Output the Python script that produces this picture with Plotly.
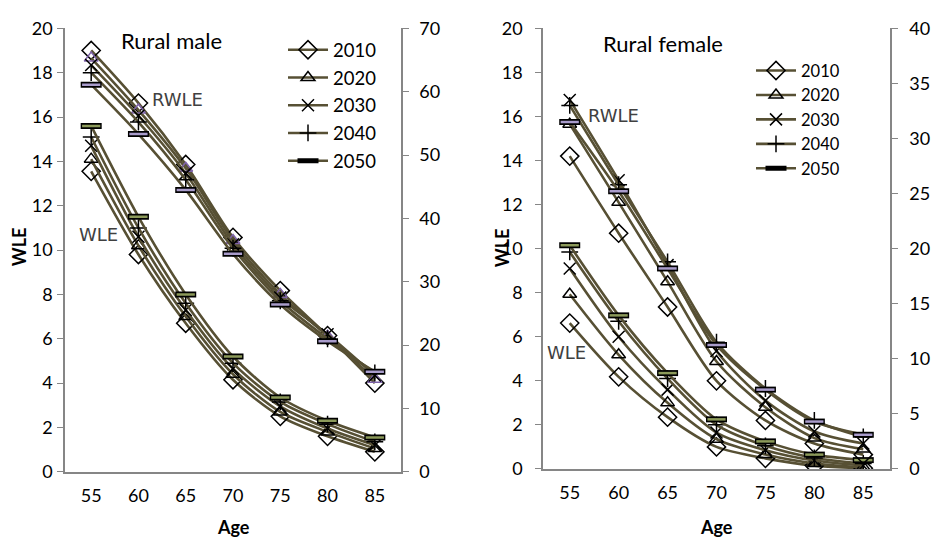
import plotly.graph_objects as go

ages = ["55", "60", "65", "70", "75", "80", "85"]
years = ["2010", "2020", "2030", "2040", "2050"]

# Rural male, WLE (left axis)
male_wle_2010 = [13.55, 9.8, 6.7, 4.15, 2.5, 1.6, 0.9]
male_wle_2020 = [14.1, 10.2, 7.0, 4.4, 2.7, 1.8, 1.05]
male_wle_2030 = [14.7, 10.6, 7.3, 4.65, 2.95, 1.95, 1.2]
male_wle_2040 = [15.1, 11.0, 7.6, 4.9, 3.15, 2.15, 1.35]
male_wle_2050 = [15.6, 11.5, 8.0, 5.2, 3.35, 2.3, 1.55]
# Rural male, RWLE (right axis)
male_rwle_2010 = [66.5, 58.2, 48.5, 37.0, 28.6, 21.5, 14.0]
male_rwle_2020 = [65.3, 57.1, 47.9, 36.5, 28.0, 21.4, 14.6]
male_rwle_2030 = [64.2, 56.2, 47.1, 35.9, 27.5, 21.7, 15.2]
male_rwle_2040 = [63.0, 55.2, 46.1, 35.3, 27.0, 21.0, 15.6]
male_rwle_2050 = [61.1, 53.3, 44.5, 34.4, 26.4, 20.6, 15.8]
# Rural female, WLE (left axis)
female_wle_2010 = [6.62, 4.18, 2.35, 1.0, 0.48, 0.15, 0.03]
female_wle_2020 = [7.93, 5.18, 3.0, 1.35, 0.65, 0.25, 0.08]
female_wle_2030 = [9.1, 6.0, 3.6, 1.65, 0.85, 0.38, 0.15]
female_wle_2040 = [9.85, 6.7, 4.1, 2.0, 1.05, 0.5, 0.25]
female_wle_2050 = [10.15, 6.97, 4.35, 2.25, 1.25, 0.65, 0.4]
# Rural female, RWLE (right axis)
female_rwle_2010 = [28.4, 21.4, 14.7, 8.0, 4.4, 2.3, 1.3]
female_rwle_2020 = [31.3, 24.2, 17.0, 9.75, 5.6, 2.8, 1.8]
female_rwle_2030 = [33.5, 26.2, 18.5, 10.7, 6.2, 3.4, 2.3]
female_rwle_2040 = [33.0, 25.8, 18.8, 11.5, 7.3, 4.4, 2.9]
female_rwle_2050 = [31.5, 25.2, 18.2, 11.25, 7.2, 4.3, 3.1]

male_wle = [male_wle_2010, male_wle_2020, male_wle_2030, male_wle_2040, male_wle_2050]
male_rwle = [male_rwle_2010, male_rwle_2020, male_rwle_2030, male_rwle_2040, male_rwle_2050]
female_wle = [female_wle_2010, female_wle_2020, female_wle_2030, female_wle_2040, female_wle_2050]
female_rwle = [female_rwle_2010, female_rwle_2020, female_rwle_2030, female_rwle_2040, female_rwle_2050]

FONT = "Lato"
LINE = "#575034"
symbols = ["diamond-open", "triangle-up-open", "x-thin-open", "cross-thin-open", "line-ew-open"]
sizes = [14, 12, 12, 12, 15]

fig = go.Figure()


def add_series(vals, xa, ya, i, rw, female, legend_name):
    sym = symbols[i]
    mcol = "black"
    if rw and i == 1 and not female:
        mcol = "#7d62a8"
    if i < 4:
        marker = dict(symbol=sym, size=sizes[i], color=mcol, line=dict(color=mcol, width=1.5))
    else:
        marker = dict(symbol="line-ew-open", size=sizes[i], color="black", line=dict(color="black", width=6))
    show = (not rw)
    fig.add_trace(go.Scatter(
        x=ages, y=vals, xaxis=xa, yaxis=ya, mode="lines+markers",
        name=years[i], line=dict(color=LINE, width=2.6, shape="spline", smoothing=0.8),
        marker=marker, showlegend=show, legend=legend_name,
        legendgroup=legend_name + years[i],
    ))
    if i == 4:
        fill = "#a99ccb" if rw else "#8c9a5a"
        fig.add_trace(go.Scatter(
            x=ages, y=vals, xaxis=xa, yaxis=ya, mode="markers",
            marker=dict(symbol="line-ew-open", size=sizes[i] - 2, color=fill, line=dict(color=fill, width=2.5)),
            showlegend=False, hoverinfo="skip",
        ))


for i in range(5):
    add_series(male_rwle[i], "x", "y2", i, True, False, "legend")
for i in range(5):
    add_series(male_wle[i], "x", "y", i, False, False, "legend")
for i in range(5):
    add_series(female_rwle[i], "x2", "y4", i, True, True, "legend2")
for i in range(5):
    add_series(female_wle[i], "x2", "y3", i, False, True, "legend2")

W, H = 934, 549
def px(x):
    return x / W
def py(y):
    return (H - y) / H

axcol = "#868686"
tickfont = dict(family=FONT, size=18, color="black")
yd = [py(479), py(17)]
yd2 = [py(476), py(17)]

common_x = dict(type="category", showline=True, linecolor=axcol, linewidth=1.5,
                ticks="", tickfont=tickfont, showgrid=False, zeroline=False,
                ticklabelstandoff=7)
common_y = dict(showline=True, linecolor=axcol, linewidth=1.5, ticks="outside",
                ticklen=6, tickcolor=axcol, tickfont=tickfont, showgrid=False, zeroline=False)

fig.update_layout(
    width=W, height=H, margin=dict(l=0, r=0, t=0, b=0),
    paper_bgcolor="white", plot_bgcolor="white",
    font=dict(family=FONT, size=16, color="black"),
    xaxis=dict(domain=[px(65), px(401)], anchor="y", **common_x),
    yaxis=dict(domain=yd, range=[0, 20], dtick=2, anchor="x", ticklabelstandoff=1, **common_y),
    yaxis2=dict(range=[0, 70], dtick=10, overlaying="y", side="right", anchor="x",
                ticklabelstandoff=7, **common_y),
    xaxis2=dict(domain=[px(543), px(890)], anchor="y3", **common_x),
    yaxis3=dict(domain=yd2, range=[0, 20], dtick=2, anchor="x2", ticklabelstandoff=9, **common_y),
    yaxis4=dict(range=[0, 40], dtick=5, overlaying="y3", side="right", anchor="x2",
                ticklabelstandoff=8, **common_y),
    legend=dict(x=px(283), y=py(20), xanchor="left", yanchor="top", bgcolor="rgba(0,0,0,0)",
                font=dict(family=FONT, size=18.5), traceorder="grouped", tracegroupgap=0.7,
                itemwidth=40),
    legend2=dict(x=px(751), y=py(43), xanchor="left", yanchor="top", bgcolor="rgba(0,0,0,0)",
                 font=dict(family=FONT, size=16.5), traceorder="grouped", tracegroupgap=0,
                 itemwidth=40),
)

ann_font = dict(family="DejaVu Sans", size=18, color="#404040")
annotations = [
    dict(x=px(171), y=py(30), text="Rural male", font=dict(family=FONT, size=22)),
    dict(x=px(177), y=py(91), text="RWLE", font=ann_font),
    dict(x=px(98), y=py(232), text="WLE", font=ann_font),
    dict(x=px(663), y=py(33), text="Rural female", font=dict(family=FONT, size=22)),
    dict(x=px(613), y=py(108), text="RWLE", font=ann_font),
    dict(x=px(566), y=py(355), text="WLE", font=ann_font),
    dict(x=px(19), y=py(245), text="<b>WLE</b>", textangle=-90, font=dict(family=FONT, size=18)),
    dict(x=px(502), y=py(245), text="<b>WLE</b>", textangle=-90, font=dict(family=FONT, size=18)),
    dict(x=px(233), y=py(537), text="<b>Age</b>", font=dict(family=FONT, size=18)),
    dict(x=px(716), y=py(537), text="<b>Age</b>", font=dict(family=FONT, size=18)),
]
for a in annotations:
    a.update(xref="paper", yref="paper", showarrow=False, xanchor="center", yanchor="middle")
fig.update_layout(annotations=annotations)

fig.write_html("out.html")
